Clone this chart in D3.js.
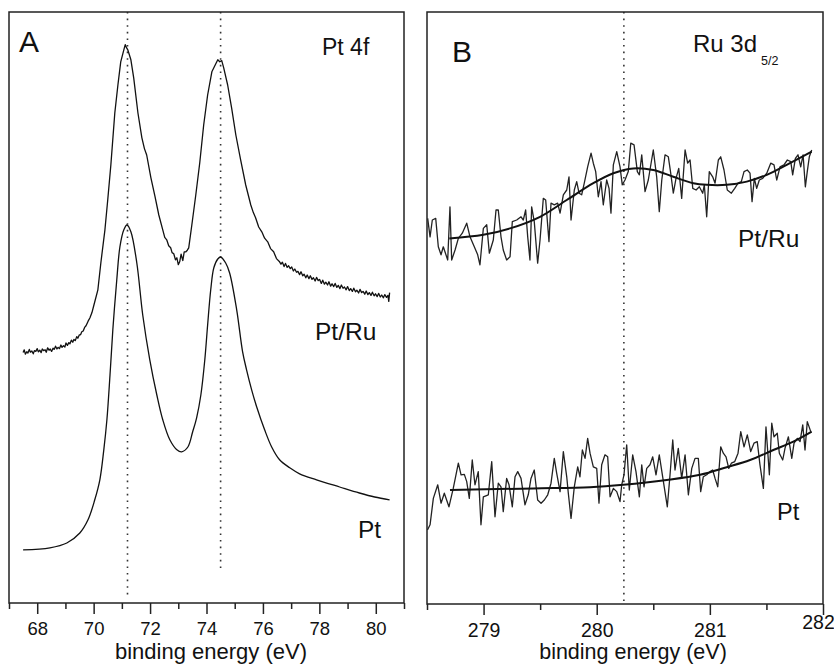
<!DOCTYPE html>
<html>
<head>
<meta charset="utf-8">
<script src="https://cdnjs.cloudflare.com/ajax/libs/d3/7.8.5/d3.min.js"></script>
<style>
  body { margin: 0; background: #fff; }
  svg { font-family: "Liberation Sans", Arial, sans-serif; }
  .axis path, .axis line { stroke: #222; stroke-width: 1.5; }
  .axis text { fill: #111; }
</style>
</head>
<body>
<div id="chart"></div>
<script>
var svgWidth = 834;
var svgHeight = 665;

// tick values
var ticksA = [68, 70, 72, 74, 76, 78, 80];
var minorA = [67, 69, 71, 73, 75, 77, 79, 81];
var ticksB = [279, 280, 281, 282];
var minorB = [278.5, 279.5, 280.5, 281.5];

// peak positions (dotted lines) and where the dots stop
var peaksA = [71.2, 74.5];
var peakEndA = [1.5, 7.5];
var peaksB = [280.24];

// Panel A, Pt 4f : [binding energy, intensity a.u.]
var ptA = [
  [67.50, 13.3], [68.45, 13.8], [69.05, 15.0], [69.51, 17.5], [69.80, 20.8],
  [70.04, 25.8], [70.22, 30.8], [70.36, 38.3], [70.47, 45.8], [70.58, 57.0],
  [70.68, 68.3], [70.82, 80.8], [70.93, 89.0], [71.07, 93.3], [71.18, 94.5],
  [71.32, 92.8], [71.53, 85.0], [71.74, 72.0], [71.99, 60.8], [72.24, 52.0],
  [72.45, 45.8], [72.70, 40.8], [72.95, 38.3], [73.12, 37.8], [73.34, 39.0],
  [73.51, 42.8], [73.65, 46.3], [73.80, 52.0], [73.94, 60.8], [74.04, 69.5],
  [74.15, 78.3], [74.26, 83.8], [74.40, 86.0], [74.50, 86.5], [74.68, 85.0],
  [74.82, 82.5], [75.07, 73.3], [75.28, 62.8], [75.42, 58.3], [75.60, 53.3],
  [75.78, 49.0], [76.06, 43.3], [76.31, 39.0], [76.59, 35.8], [76.95, 33.8],
  [77.30, 32.3], [77.90, 30.8], [78.72, 29.0], [79.42, 27.5], [79.96, 26.5],
  [80.49, 25.8]
];

var ptRuA = [
  [67.50, 62.6], [67.54, 63.3], [67.58, 62.2], [67.63, 62.8], [67.67, 62.5], [67.72, 63.4],
  [67.76, 62.7], [67.81, 63.0], [67.86, 62.3], [67.90, 63.1], [67.95, 62.9], [68.00, 63.6],
  [68.04, 62.8], [68.09, 63.2], [68.14, 62.6], [68.18, 63.5], [68.23, 63.1], [68.28, 63.3],
  [68.32, 62.7], [68.37, 63.8], [68.42, 63.2], [68.46, 63.5], [68.51, 62.9], [68.56, 63.7],
  [68.60, 63.4], [68.65, 64.2], [68.70, 63.5], [68.74, 63.9], [68.79, 63.6], [68.84, 64.5],
  [68.88, 63.9], [68.93, 64.3], [68.98, 64.0], [69.02, 65.0], [69.07, 64.4], [69.12, 65.1],
  [69.16, 64.8], [69.21, 65.7], [69.26, 65.2], [69.30, 65.9], [69.35, 65.6], [69.40, 66.6],
  [69.44, 66.2], [69.49, 67.0], [69.54, 67.1], [69.58, 67.8], [69.63, 68.0], [69.68, 68.9],
  [69.73, 69.3], [69.80, 70.4], [69.87, 71.3], [69.94, 72.6],
  [70.01, 74.5], [70.15, 78.3], [70.26, 85.3], [70.40, 93.3],
  [70.50, 100.8], [70.61, 109.5], [70.75, 122.5], [70.86, 129.5], [70.96, 135.3],
  [71.07, 138.3], [71.12, 139.6], [71.16, 138.9], [71.21, 138.3], [71.32, 135.8], [71.42, 131.3],
  [71.57, 122.5], [71.71, 116.3], [71.80, 113.6], [71.88, 112.0], [72.03, 106.3], [72.17, 101.8],
  [72.31, 97.0], [72.45, 93.3], [72.52, 91.4], [72.59, 90.8], [72.66, 89.3], [72.73, 88.8],
  [72.78, 87.6], [72.84, 87.3], [72.90, 85.8], [72.95, 86.3], [73.00, 84.6], [73.05, 85.3],
  [73.10, 87.2], [73.16, 85.6], [73.21, 87.8], [73.27, 87.8], [73.32, 88.2], [73.37, 88.8],
  [73.48, 94.5], [73.62, 102.0], [73.76, 110.0], [73.90, 119.5], [74.04, 127.0],
  [74.19, 132.8], [74.33, 134.8], [74.40, 135.8], [74.47, 135.3], [74.54, 135.6], [74.61, 133.8],
  [74.75, 129.5], [74.89, 123.8], [75.04, 117.0], [75.21, 110.8], [75.39, 104.5], [75.57, 99.5],
  [75.66, 97.6], [75.74, 96.3], [75.85, 94.0], [75.96, 92.8], [76.06, 91.2], [76.17, 90.3],
  [76.27, 88.6], [76.38, 87.8], [76.48, 86.1], [76.59, 85.3],
  [76.64, 84.7], [76.69, 85.2], [76.75, 84.1], [76.80, 84.9], [76.86, 83.9], [76.91, 84.3],
  [76.97, 83.6], [77.02, 84.0], [77.08, 83.0], [77.13, 83.5], [77.19, 82.7], [77.24, 82.9],
  [77.30, 82.1], [77.35, 82.8], [77.41, 81.8], [77.46, 82.2], [77.52, 81.3], [77.57, 82.0],
  [77.63, 81.1], [77.68, 81.8], [77.74, 80.9], [77.79, 81.3], [77.85, 80.5], [77.90, 81.4],
  [77.96, 80.6], [78.01, 80.9], [78.07, 79.9], [78.12, 80.7], [78.18, 79.7], [78.23, 80.2],
  [78.29, 79.5], [78.34, 80.3], [78.40, 79.2], [78.45, 79.8], [78.51, 79.1], [78.56, 79.9],
  [78.62, 78.9], [78.67, 79.4], [78.73, 78.6], [78.78, 79.5], [78.84, 78.7], [78.89, 79.0],
  [78.95, 78.3], [79.00, 79.1], [79.06, 78.1], [79.11, 78.6], [79.17, 77.9], [79.22, 78.7],
  [79.28, 77.8], [79.33, 78.2], [79.39, 77.5], [79.44, 78.4], [79.50, 77.6], [79.55, 77.9],
  [79.61, 77.2], [79.66, 78.0], [79.72, 77.1], [79.77, 77.6], [79.83, 76.9], [79.88, 77.7],
  [79.94, 76.8], [79.99, 77.3], [80.05, 76.6], [80.10, 77.4], [80.16, 76.5], [80.21, 77.0],
  [80.27, 76.3], [80.32, 77.1], [80.38, 76.4], [80.43, 76.9], [80.46, 75.4], [80.49, 77.6]
];

// Panel B, Ru 3d5/2
var ptRuB = [
  [278.506, 96.4], [278.527, 91.8], [278.547, 96.0], [278.577, 96.4], [278.600, 89.3],
  [278.624, 87.3], [278.644, 89.3], [278.683, 86.0], [278.703, 99.3], [278.718, 86.0],
  [278.748, 88.5], [278.777, 91.4], [278.812, 92.7], [278.851, 95.2], [278.880, 91.8],
  [278.918, 89.3], [278.948, 87.3], [278.968, 84.8], [278.998, 93.9], [279.028, 94.8],
  [279.051, 87.7], [279.086, 91.0], [279.110, 98.5], [279.130, 98.5], [279.154, 91.8],
  [279.174, 88.5], [279.204, 86.0], [279.234, 86.8], [279.254, 95.6], [279.293, 96.0],
  [279.331, 96.8], [279.351, 96.0], [279.372, 98.5], [279.390, 91.8], [279.410, 86.0],
  [279.425, 99.3], [279.448, 95.6], [279.478, 85.2], [279.499, 91.0], [279.528, 101.4],
  [279.549, 101.0], [279.578, 90.6], [279.596, 100.2], [279.625, 99.8], [279.655, 100.2],
  [279.676, 97.7], [279.705, 102.3], [279.735, 103.5], [279.755, 106.8], [279.773, 96.0],
  [279.802, 103.5], [279.823, 105.6], [279.844, 102.7], [279.867, 102.3], [279.890, 105.2],
  [279.920, 109.3], [279.950, 112.7], [279.970, 110.2], [279.991, 108.1], [280.014, 101.8],
  [280.038, 105.6], [280.058, 99.8], [280.088, 106.0], [280.109, 103.9], [280.126, 97.7],
  [280.147, 109.8], [280.177, 113.1], [280.206, 109.3], [280.226, 104.8], [280.250, 106.0],
  [280.279, 108.1], [280.301, 115.2], [280.330, 114.8], [280.359, 108.1], [280.377, 107.3],
  [280.398, 112.3], [280.427, 103.1], [280.456, 106.0], [280.500, 113.5], [280.530, 106.8],
  [280.553, 98.1], [280.575, 106.0], [280.604, 112.3], [280.633, 111.8], [280.654, 107.7],
  [280.677, 102.7], [280.701, 106.4], [280.725, 108.9], [280.751, 101.4], [280.781, 113.5],
  [280.804, 110.2], [280.825, 111.0], [280.849, 103.9], [280.878, 103.5], [280.907, 104.3],
  [280.937, 102.7], [280.951, 104.8], [280.972, 96.8], [280.995, 108.1], [281.025, 106.8],
  [281.046, 105.2], [281.075, 111.0], [281.096, 111.8], [281.125, 108.5], [281.154, 103.5],
  [281.190, 102.7], [281.220, 103.9], [281.249, 105.2], [281.278, 105.6], [281.302, 108.1],
  [281.331, 108.5], [281.355, 107.7], [281.373, 100.6], [281.393, 106.4], [281.414, 103.9],
  [281.437, 106.0], [281.467, 106.4], [281.503, 107.7], [281.538, 110.2], [281.567, 109.8],
  [281.591, 106.0], [281.620, 109.3], [281.655, 109.8], [281.685, 111.0], [281.715, 110.6],
  [281.732, 107.3], [281.756, 111.4], [281.779, 112.3], [281.803, 109.3], [281.824, 112.3],
  [281.844, 104.3], [281.861, 108.1], [281.879, 111.8], [281.900, 113.5]
];

var ptRuFitB = [
  [278.697, 91.4], [278.998, 92.3], [279.234, 93.9], [279.499, 96.8], [279.735, 101.0],
  [279.970, 105.2], [280.147, 107.7], [280.323, 108.9], [280.500, 108.5], [280.677, 106.8],
  [280.854, 105.2], [280.972, 104.8], [281.149, 104.8], [281.326, 105.6], [281.503, 107.3],
  [281.679, 109.8], [281.900, 113.1]
];

var ptB = [
  [278.504, 18.5], [278.527, 19.8], [278.556, 26.4], [278.595, 29.8], [278.624, 25.2],
  [278.653, 27.7], [278.694, 24.3], [278.732, 28.9], [278.777, 35.2], [278.801, 32.3],
  [278.830, 32.4], [278.851, 30.6], [278.874, 26.4], [278.900, 36.0], [278.924, 29.8],
  [278.953, 33.1], [278.977, 19.8], [278.998, 26.8], [279.042, 27.3], [279.072, 35.6],
  [279.101, 21.8], [279.130, 30.2], [279.154, 29.3], [279.174, 23.1], [279.204, 31.4],
  [279.225, 29.8], [279.254, 24.3], [279.278, 31.8], [279.302, 33.1], [279.331, 31.4],
  [279.366, 24.8], [279.395, 27.3], [279.419, 31.4], [279.448, 33.5], [279.478, 26.0],
  [279.508, 25.2], [279.537, 26.0], [279.567, 27.3], [279.596, 30.2], [279.625, 36.4],
  [279.646, 32.7], [279.676, 28.1], [279.705, 38.1], [279.735, 31.8], [279.749, 27.7],
  [279.773, 21.4], [279.802, 29.3], [279.832, 34.3], [279.852, 31.8], [279.873, 38.5],
  [279.897, 36.4], [279.920, 41.4], [279.941, 37.7], [279.970, 34.3], [280.000, 33.9],
  [280.020, 25.2], [280.044, 34.8], [280.073, 37.3], [280.097, 36.8], [280.118, 26.8],
  [280.147, 28.9], [280.177, 28.1], [280.206, 25.6], [280.221, 29.8], [280.241, 32.3],
  [280.265, 39.8], [280.288, 28.5], [280.318, 37.3], [280.347, 33.1], [280.377, 26.8],
  [280.398, 34.8], [280.418, 29.3], [280.442, 33.9], [280.471, 34.8], [280.495, 36.8],
  [280.524, 32.3], [280.553, 37.3], [280.583, 31.8], [280.624, 24.3], [280.648, 32.3],
  [280.672, 41.0], [280.692, 33.5], [280.721, 38.9], [280.751, 31.4], [280.781, 37.3],
  [280.810, 27.3], [280.840, 33.9], [280.869, 36.4], [280.898, 36.4], [280.919, 28.1],
  [280.942, 31.8], [280.972, 32.3], [281.001, 33.1], [281.025, 33.5], [281.046, 31.4],
  [281.070, 29.3], [281.096, 39.3], [281.119, 37.7], [281.143, 36.8], [281.167, 33.9],
  [281.190, 35.2], [281.220, 35.6], [281.249, 37.7], [281.273, 43.1], [281.302, 39.3],
  [281.331, 42.3], [281.361, 38.1], [281.390, 40.2], [281.419, 40.6], [281.443, 34.8],
  [281.473, 28.9], [281.496, 44.3], [281.526, 32.3], [281.547, 45.2], [281.567, 41.8],
  [281.596, 42.7], [281.614, 37.7], [281.644, 36.0], [281.664, 38.9], [281.694, 41.8],
  [281.724, 36.4], [281.744, 40.2], [281.773, 41.4], [281.797, 40.6], [281.821, 44.8],
  [281.841, 38.5], [281.861, 45.6], [281.892, 43.1]
];

var ptFitB = [
  [278.703, 28.5], [279.440, 28.9], [279.941, 29.2], [280.235, 29.8], [280.619, 31.0],
  [280.913, 32.3], [281.149, 34.2], [281.355, 36.0], [281.561, 38.5], [281.738, 40.6],
  [281.900, 43.1]
];

var svg = d3.select("#chart")
  .append("svg")
  .attr("width", svgWidth)
  .attr("height", svgHeight);

// scales for the two panels
var xA = d3.scaleLinear().domain([67, 81]).range([9, 404]);
var yA = d3.scaleLinear().domain([0, 147.75]).range([603, 12]);
var xB = d3.scaleLinear().domain([278.5, 282]).range([427, 823]);
var yB = d3.scaleLinear().domain([0, 148]).range([604, 12]);

function drawAxis(x, y, major, minor, fontSize) {
  var y0 = y.range()[0];
  var g = svg.append("g")
    .attr("class", "axis")
    .attr("transform", `translate(0, ${y0})`)
    .call(d3.axisBottom(x).tickValues(major).tickSize(11).tickSizeOuter(0).tickPadding(8).tickFormat(d3.format("d")));
  g.select(".domain").remove();
  g.selectAll("text").attr("font-size", fontSize);

  var gm = svg.append("g")
    .attr("class", "axis")
    .attr("transform", `translate(0, ${y0})`)
    .call(d3.axisBottom(x).tickValues(minor).tickSize(6).tickSizeOuter(0).tickFormat(""));
  gm.select(".domain").remove();
  return g;
}

function drawFrame(x, y) {
  svg.append("rect")
    .attr("x", x.range()[0])
    .attr("y", y.range()[1])
    .attr("width", x.range()[1] - x.range()[0])
    .attr("height", y.range()[0] - y.range()[1])
    .attr("fill", "none")
    .attr("stroke", "#222")
    .attr("stroke-width", 1.5);
}

function drawLine(data, x, y, curve, color, width) {
  var line = d3.line()
    .x(d => x(d[0]))
    .y(d => y(d[1]))
    .curve(curve);
  svg.append("path")
    .datum(data)
    .attr("d", line)
    .attr("fill", "none")
    .attr("stroke", color)
    .attr("stroke-width", width)
    .attr("stroke-linejoin", "round");
}

function dotted(x, y, e, yEnd) {
  svg.append("line")
    .attr("x1", x(e)).attr("x2", x(e))
    .attr("y1", y.range()[1]).attr("y2", y(yEnd))
    .attr("stroke", "#333")
    .attr("stroke-width", 1.6)
    .attr("stroke-dasharray", "1.6,5");
}

// ---- panel A
peaksA.forEach((p, i) => dotted(xA, yA, p, peakEndA[i]));
drawLine(ptA, xA, yA, d3.curveCatmullRom, "#111", 1.3);
drawLine(ptRuA, xA, yA, d3.curveLinear, "#111", 1.3);
drawFrame(xA, yA);
drawAxis(xA, yA, ticksA, minorA, 18.5);

// ---- panel B
peaksB.forEach(p => dotted(xB, yB, p, 0));
drawLine(ptRuB, xB, yB, d3.curveLinear, "#222", 1.3);
drawLine(ptB, xB, yB, d3.curveLinear, "#222", 1.3);
drawLine(ptRuFitB, xB, yB, d3.curveCatmullRom, "#111", 2);
drawLine(ptFitB, xB, yB, d3.curveCatmullRom, "#111", 2);
drawFrame(xB, yB);
var axB = drawAxis(xB, yB, ticksB, minorB, 19.5);
// last label sits a bit higher and left in the original
axB.selectAll(".tick text").filter(d => d === 282)
  .attr("dy", "0.3em")
  .attr("dx", -5);

// ---- texts
function label(x, y, txt, size, anchor) {
  return svg.append("text")
    .attr("x", x)
    .attr("y", y)
    .attr("font-size", size)
    .attr("fill", "#111")
    .attr("text-anchor", anchor || "start")
    .text(txt);
}

label(19, 52, "A", 30);
label(322, 55, "Pt 4f", 23);
label(315, 340, "Pt/Ru", 24.5);
label(358, 538, "Pt", 24.5);
label(211, 659, "binding energy (eV)", 22, "middle");

label(452, 62, "B", 30);
var ru = label(693, 52, "Ru 3d", 24);
ru.append("tspan")
  .attr("font-size", 12.5)
  .attr("dx", 4)
  .attr("dy", 13)
  .text("5/2");
label(738, 247, "Pt/Ru", 24.5);
label(777, 520, "Pt", 23.5);
label(633, 659, "binding energy (eV)", 21.5, "middle");
</script>
</body>
</html>
